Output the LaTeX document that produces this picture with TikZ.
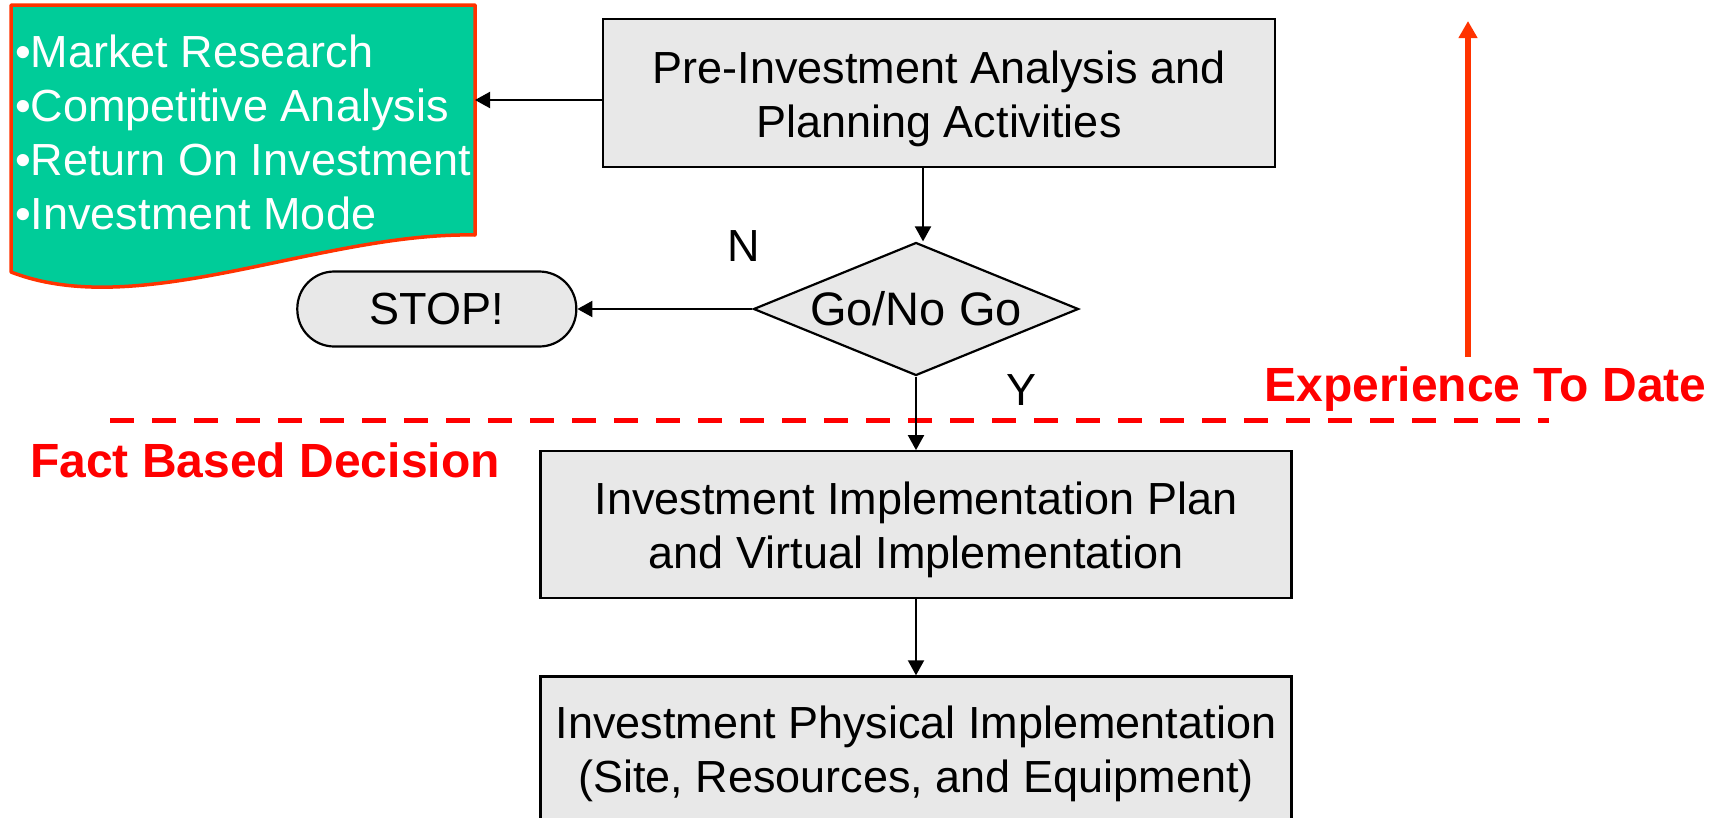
\documentclass[tikz,border=0pt]{standalone}
\usepackage[svgnames]{xcolor}
\usepackage{fontspec}
\setmainfont{Liberation Sans}
\usepackage{tikz}
\usetikzlibrary{arrows.meta,positioning,shapes.geometric}
\definecolor{noteGreen}{HTML}{00CC99}
\definecolor{noteEdge}{HTML}{FF3300}
\definecolor{stepGrey}{HTML}{E8E8E8}
\colorlet{decisionRed}{Red}

\begin{document}
\begin{tikzpicture}[
  x=1pt, y=-1pt,
  every node/.style={font=\fontsize{45}{54}\selectfont},
  stepbox/.style={draw, line width=2.2pt, fill=stepGrey, align=center, inner sep=0pt, minimum width=751pt},
  decision/.style={diamond, draw, line width=2.2pt, fill=stepGrey, aspect=2.45, inner sep=0pt, minimum width=325pt, minimum height=133pt, font=\fontsize{47}{56}\selectfont},
  terminal/.style={draw, line width=2.2pt, fill=stepGrey, rounded corners=37pt, minimum width=279pt, minimum height=75pt},
  flow/.style={line width=2pt, -{Triangle[width=16pt,length=15pt]}},
  redLabel/.style={text=decisionRed, font=\fontsize{48}{56}\selectfont\bfseries}
]
\useasboundingbox (0,0) rectangle (1721,817);
\filldraw[fill=noteGreen, draw=noteEdge, line width=3.5pt, line join=round]
  (11,5) -- (475,5) -- (475,235) .. controls (320,232) and (140,322) .. (11,272) -- cycle;
\node[anchor=west, inner sep=0pt, text=white, align=left] (notes) at (15,132)
  {•Market Research\\•Competitive Analysis\\•Return On Investment\\•Investment Mode};
\coordinate (docE) at (475,100);

\node[stepbox, minimum width=672pt, minimum height=148pt] (pre) at (939,93) {\rule{0pt}{45pt}Pre-Investment Analysis and\\Planning Activities};
\node[decision] (dec) at (916,309) {Go/No Go};
\node[terminal, left=175pt of dec] (stop) {STOP!};
\node[stepbox, minimum height=147pt, below=73.5pt of dec] (plan) {\rule{0pt}{42pt}Investment Implementation Plan\\and Virtual Implementation};
\node[stepbox, minimum height=155pt, below=76pt of plan] (phys) {Investment Physical Implementation\\(Site, Resources, and Equipment)};

\node (no) at (744,246) {N};
\node (yes) at (1021,390) {Y};
\node[redLabel] (exp) at (1485.5,389) {Experience To Date};
\node[redLabel] (fact) at (265,460) {Fact Based Decision};

\coordinate (cutL) at (110,420);
\coordinate (cutR) at (1549,420);
\draw[decisionRed, line width=5pt, dash pattern=on 24pt off 18pt] (cutL) -- (cutR);
\coordinate (expBase) at (1468,357);
\coordinate (expTop) at (1468,21);
\draw[noteEdge, line width=5.5pt, -{Triangle[width=18pt,length=17pt]}] (expBase) -- (expTop);

\draw[flow] ([yshift=-7pt]pre.west) -- (docE);
\draw[flow] ([xshift=-16pt]pre.south) -- ([xshift=-16pt]pre.south |- dec.north);
\draw[flow] (dec.west) -- (stop.east);
\draw[flow] (dec.south) -- (plan.north);
\draw[flow] (plan.south) -- (phys.north);
\end{tikzpicture}
\end{document}
